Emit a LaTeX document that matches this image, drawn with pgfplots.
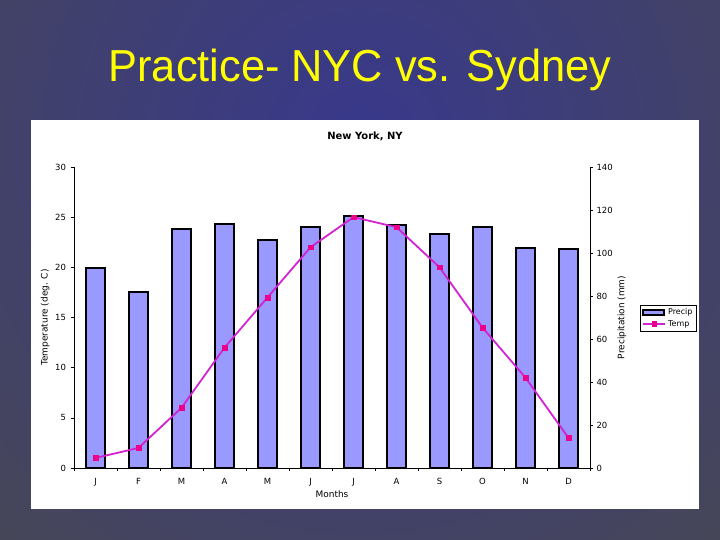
\documentclass[border=0pt]{standalone}
\usepackage{pgfplots}
\pgfplotsset{compat=1.18}
\usepackage{fontspec}
\setmainfont{Liberation Sans}
\newfontfamily\chartfont{DejaVu Sans}

\definecolor{bgblue}{RGB}{56,56,140}
\definecolor{bggrey}{RGB}{72,72,82}
\definecolor{titleyellow}{RGB}{255,255,0}
\definecolor{barblue}{RGB}{153,153,255}
\definecolor{tempmag}{RGB}{210,35,210}

\pgfplotsset{
  precip legend img/.style={legend image code/.code={\draw[##1] (0bp,-2.5bp) rectangle (21bp,2.5bp);}},
  temp legend img/.style={legend image code/.code={\draw[mark repeat=2, mark phase=2, ##1]
    plot coordinates {(0bp,0bp) (11bp,0bp) (22bp,0bp)};}},
}

\begin{document}
\begin{tikzpicture}[x=1bp,y=1bp]
  % slide background
  \fill[bggrey] (0,0) rectangle (720,540);
  \begin{scope}
    \clip (0,0) rectangle (720,540);
    \shade[inner color=bgblue, outer color=bggrey] (360,400) circle (600);
  \end{scope}
  \useasboundingbox (0,0) rectangle (720,540);
  \node[anchor=base, text=titleyellow, xscale=0.967, font=\fontsize{45}{50}\selectfont] at (360,458) {Practice- NYC vs. Sydney};
  % white chart panel
  \fill[white] (31,30.5) rectangle (699,420);
  \node[anchor=base, font=\chartfont\fontsize{10}{12}\selectfont\bfseries] at (365,400) {New York, NY};

  % precipitation bars, right axis
  \begin{axis}[
    at={(74bp,72bp)}, anchor=south west,
    scale only axis, width=516bp, height=301bp,
    xmin=-0.5, xmax=11.5, ymin=0, ymax=140,
    axis x line=none, axis y line*=right,
    ytick={0,20,...,140},
    tick align=outside, major tick length=3bp,
    tick style={black, line width=0.6bp},
    axis line style={black, line width=0.8bp, -},
    ticklabel style={font=\chartfont\fontsize{8.5}{10}\selectfont},
    /pgf/number format/assume math mode=true,
    ylabel={Precipitation (mm)},
    ylabel style={at={(axis description cs:1.062,0.5)}, anchor=center, font=\chartfont\fontsize{9}{11}\selectfont},
  ]
    \addplot[ybar, bar width=0.43, fill=barblue, draw=black, line width=2bp] coordinates {
      (0,93) (1,82) (2,111) (3,113.5) (4,106) (5,112)
      (6,117) (7,113) (8,109) (9,112) (10,102.5) (11,102)
    };
  \end{axis}

  % temperature line, left axis
  \begin{axis}[
    at={(74bp,72bp)}, anchor=south west,
    scale only axis, width=516bp, height=301bp,
    xmin=-0.5, xmax=11.5, ymin=0, ymax=30,
    axis x line*=bottom, axis y line*=left,
    xtick={0,...,11},
    xticklabels={J,F,M,A,M,J,J,A,S,O,N,D},
    minor xtick={-0.5,0.5,...,11.5},
    ytick={0,5,...,30},
    tick align=outside, major tick length=3bp, minor tick length=3bp,
    x tick style={draw=none},
    minor x tick style={draw=black, line width=0.6bp},
    y tick style={black, line width=0.6bp},
    axis line style={black, line width=0.8bp, -},
    ticklabel style={font=\chartfont\fontsize{8.5}{10}\selectfont},
    yticklabel style={xshift=-1.5bp},
    xticklabel style={yshift=-4bp},
    /pgf/number format/assume math mode=true,
    xlabel={Months},
    xlabel style={at={(axis description cs:0.5,-0.086)}, anchor=center, font=\chartfont\fontsize{9}{11}\selectfont},
    ylabel={Temperature (deg. C)},
    ylabel style={at={(axis description cs:-0.056,0.5)}, anchor=center, font=\chartfont\fontsize{9}{11}\selectfont},
    legend style={at={(axis description cs:1.097,0.452)}, anchor=south west,
      draw=black, line width=0.6bp, font=\chartfont\fontsize{8}{9}\selectfont,
      inner sep=2bp, row sep=0bp, cells={anchor=west}},
    legend cell align=left,
  ]
    \addlegendimage{precip legend img, fill=barblue, draw=black, line width=1.8bp}
    \addlegendentry{Precip}
    \addplot[tempmag, line width=1.8bp, mark=square*, mark size=2.4bp,
      mark options={fill=magenta, draw=magenta, line width=0.5bp},
      temp legend img] coordinates {
      (0,1) (1,2) (2,6) (3,12) (4,17) (5,22)
      (6,25) (7,24) (8,20) (9,14) (10,9) (11,3)
    };
    \addlegendentry{Temp}
  \end{axis}
\end{tikzpicture}
\end{document}
